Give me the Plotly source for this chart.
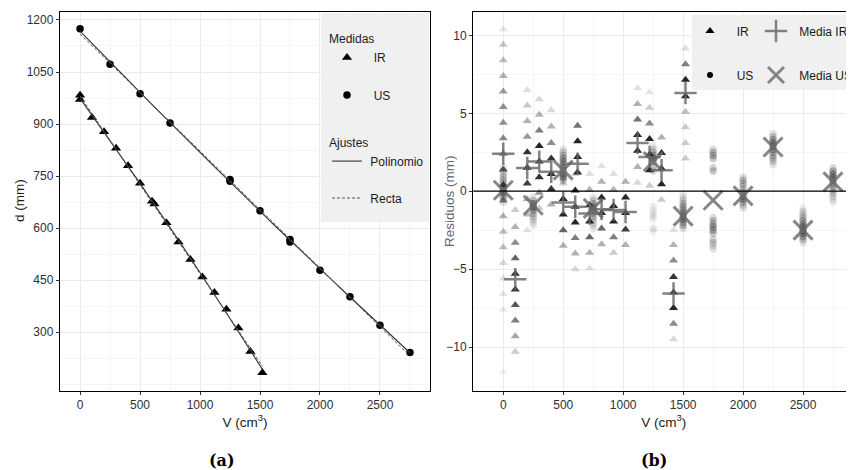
import numpy as np
import plotly.graph_objects as go

OFF = 8                      # page body margin of the browser
W, H = 854 - OFF, 470 - OFF  # figure size so that it fills the window

# ---------------- Panel (a): distance vs volume ----------------
ir_v = [0, 0, 100, 200, 300, 400, 500, 600, 620, 720, 820, 920, 1020, 1120, 1220, 1320, 1420, 1520]
ir_d = [983, 971, 919, 878, 830, 780, 729, 677, 669, 615, 560, 509, 459, 414, 366, 312, 244, 183]
us_v = [0, 250, 500, 750, 1250, 1250, 1500, 1750, 1750, 2000, 2250, 2500, 2750]
us_d = [1175, 1072, 987, 903, 740, 735, 650, 567, 560, 478, 402, 320, 241]
d_ticks = [300, 450, 600, 750, 900, 1050, 1200]

# ---------------- Panel (b): residuals ----------------
ir_cols = [0, 100, 200, 300, 400, 500, 600, 620, 720, 820, 920, 1020, 1120, 1220, 1320, 1420, 1520]
ir_res = [
    [10.4, 9.4, 8.4, 7.4, 6.4, 5.4, 4.4, 3.4, 2.4, 1.4, 0.4, -0.6, -1.6, -2.6, -3.6, -4.6, -5.6, -6.6, -7.6, -11.6],
    [-1.2, -2.3, -3.3, -4.3, -5.3, -6.3, -7.3, -8.3, -9.3, -10.3],
    [6.5, 5.5, 4.5, 3.5, 2.5, 1.5, 0.5, -0.5, -1.5, -2.5],
    [5.9, 4.9, 3.9, 2.9, 1.9, 0.9, -0.1, -1.1],
    [5.2, 4.15, 3.1, 2.1, 1.1, 0.15, -0.85],
    [0.5, -0.5, -1.5, -2.5, -3.5],
    [1.1, 0.05, -1.0, -2.0, -3.0, -4.0, -5.0],
    [4.2, 3.2, 2.2, 1.2],
    [1.1, 0.1, -0.9, -1.95, -2.95, -3.95, -4.95],
    [1.6, 0.6, -0.4, -1.4, -2.4, -3.4],
    [1.1, 0.1, -0.95, -1.95, -2.95, -3.95],
    [0.6, -0.4, -1.4, -2.45, -3.45],
    [6.6, 5.6, 4.6, 3.6, 2.6, 1.55, 0.55],
    [6.35, 5.35, 4.35, 3.35, 2.35, 1.35, 0.35],
    [3.45, 2.45, 1.45, 0.45, -0.55],
    [-2.5, -3.45, -4.45, -5.5, -6.5, -7.5, -8.5, -9.5],
    [9.15, 8.15, 7.15, 6.1, 5.1, 4.1, 3.1, 2.1],
]
ir_alpha = [
    [.1, .22, .25, .3, .38, .42, .42, .45, .5, .6, .6, .4, .3, .25, .25, .15, .12, .1, .08, .06],
    [.2, .3, .45, .6, .8, .8, .65, .5, .35, .2],
    [.12, .22, .3, .4, .8, .85, .75, .3, .25, .12],
    [.15, .3, .5, .85, .8, .8, .4, .2],
    [.15, .3, .45, .8, .85, .8, .3],
    [.2, .85, .85, .6, .3],
    [.15, .85, .85, .85, .5, .3, .15],
    [.55, .85, .85, .85],
    [.12, .3, .85, .85, .6, .3, .12],
    [.12, .3, .85, .85, .6, .3],
    [.12, .3, .85, .85, .5, .2],
    [.3, .85, .85, .75, .3],
    [.12, .3, .55, .85, .85, .3, .15],
    [.1, .2, .45, .85, .85, .85, .2],
    [.3, .85, .85, .85, .2],
    [.12, .3, .45, .8, .85, .85, .45, .15],
    [.12, .5, .85, .85, .25, .2, .2, .2],
]
ir_mean = [2.4, -5.65, 1.49, 1.9, 1.25, -0.73, -1.0, 1.77, -1.43, -1.15, -1.2, -1.33, 3.1, 2.2, 1.35, -6.56, 6.3]

us_cols = [0, 250, 500, 750, 1250, 1500, 1750, 2000, 2250, 2500, 2750]
us_res = [
    [1.5, 1.3, 1.1, 0.9, 0.7, 0.5, 0.3, 0.1, -0.1, -0.3, -0.5, -0.7],
    [-0.4, -0.6, -0.8, -1.0, -1.2, -1.4, -1.6, -1.8, -2.0, -2.2],
    [2.7, 2.5, 2.3, 2.1, 1.9, 1.7, 1.5, 1.3, 1.1, 0.9, 0.7],
    [-0.4, -0.6, -0.8, -1.0, -1.2, -1.4, -1.6, -1.8, -2.0, -2.2, -2.4],
    [2.9, 2.7, 2.5, 2.3, 2.1, 1.9, 1.5, 1.3, -1.0, -1.2, -1.4, -1.6, -1.8, -2.4, -2.6],
    [-0.2, -0.4, -0.6, -0.8, -1.0, -1.2, -1.4, -1.6, -1.8, -2.0, -2.2, -2.4],
    [2.7, 2.5, 2.3, 2.1, 1.5, 1.3, -1.7, -1.9, -2.1, -2.3, -2.5, -2.7, -3.1, -3.3, -3.5, -3.7],
    [0.9, 0.7, 0.5, 0.3, 0.1, -0.1, -0.3, -0.5, -0.7, -0.9, -1.1],
    [3.7, 3.5, 3.3, 3.1, 2.9, 2.7, 2.5, 2.3, 2.1, 1.9, 1.7],
    [-1.1, -1.3, -1.5, -1.7, -1.9, -2.1, -2.3, -2.5, -2.7, -2.9, -3.1, -3.3],
    [1.5, 1.3, 1.1, 0.9, 0.7, 0.5, 0.3, 0.1, -0.1, -0.3, -0.5, -0.7],
]
us_alpha = [
    [.1, .12, .15, .18, .2, .22, .3, .4, .4, .25, .18, .12],
    [.1, .2, .4, .4, .3, .2, .16, .14, .1, .08],
    [.1, .16, .22, .28, .3, .3, .28, .25, .3, .4, .22],
    [.1, .16, .25, .35, .35, .25, .2, .16, .13, .1, .08],
    [.08, .14, .22, .3, .35, .28, .2, .16, .06, .06, .08, .08, .06, .1, .06],
    [.08, .1, .16, .22, .25, .28, .3, .35, .35, .28, .22, .12],
    [.13, .22, .25, .2, .16, .2, .13, .2, .22, .3, .25, .2, .16, .16, .13, .1],
    [.13, .2, .22, .16, .2, .22, .3, .35, .25, .16, .1],
    [.1, .2, .28, .35, .35, .3, .25, .22, .2, .16, .1],
    [.08, .13, .16, .2, .25, .3, .38, .4, .38, .3, .2, .1],
    [.13, .25, .35, .35, .3, .25, .22, .2, .16, .13, .1, .08],
]
us_mean = [0.06, -0.9, 1.35, -1.1, 1.9, -1.6, -0.58, -0.3, 2.84, -2.5, 0.6]

FONT = "Liberation Sans, Arial, sans-serif"
TXT = "#1a1a1a"

def pad(n):
    return "\u00a0" * n

fig = go.Figure()

# ---- fits for panel (a) ----
def fit_xy(v, d, deg):
    c = np.polyfit(v, d, deg)
    xs = np.linspace(min(v), max(v), 200)
    return xs, np.polyval(c, xs)

px_all, py_all, lx_all, ly_all = [], [], [], []
for v, d in ((ir_v, ir_d), (us_v, us_d)):
    xs, ys = fit_xy(v, d, 2)
    px_all += list(xs) + [None]
    py_all += list(ys) + [None]
    xs, ys = fit_xy(v, d, 1)
    lx_all += list(xs) + [None]
    ly_all += list(ys) + [None]

fig.add_trace(go.Scatter(x=ir_v, y=ir_d, mode="markers", name=pad(2) + "IR",
                         marker=dict(symbol="triangle-up", size=9, color="black"),
                         legend="legend", xaxis="x", yaxis="y"))
fig.add_trace(go.Scatter(x=us_v, y=us_d, mode="markers", name=pad(2) + "US",
                         marker=dict(symbol="circle", size=7.5, color="black"),
                         legend="legend2", xaxis="x", yaxis="y"))
fig.add_trace(go.Scatter(x=px_all, y=py_all, mode="lines", name=pad(1) + "Polinomio",
                         line=dict(color="#333333", width=1.1),
                         legend="legend3", xaxis="x", yaxis="y"))
fig.add_trace(go.Scatter(x=lx_all, y=ly_all, mode="lines", name=pad(1) + "Recta",
                         line=dict(color="#555555", width=1, dash="3px,2px"),
                         legend="legend4", xaxis="x", yaxis="y"))

# ---- panel (b) points ----
def flatten(cols, vals, alphas):
    xs, ys, cs = [], [], []
    for c, vv, aa in zip(cols, vals, alphas):
        for v, a in zip(vv, aa):
            xs.append(c)
            ys.append(v)
            cs.append(f"rgba(0,0,0,{a})")
    return xs, ys, cs

ux, uy, uc = flatten(us_cols, us_res, us_alpha)
ix, iy, ic = flatten(ir_cols, ir_res, ir_alpha)

fig.add_trace(go.Scatter(x=ux, y=uy, mode="markers", showlegend=False,
                         marker=dict(symbol="circle", size=7.5, color=uc, line=dict(width=0)),
                         xaxis="x2", yaxis="y2"))
fig.add_trace(go.Scatter(x=ix, y=iy, mode="markers", showlegend=False,
                         marker=dict(symbol="triangle-up", size=8, color=ic, line=dict(width=0)),
                         xaxis="x2", yaxis="y2"))
fig.add_trace(go.Scatter(x=us_cols, y=us_mean, mode="markers", name=pad(1) + "Media US",
                         marker=dict(symbol="x-thin", size=19,
                                     line=dict(width=3, color="rgba(105,105,105,0.8)")),
                         legend="legend8", xaxis="x2", yaxis="y2"))
fig.add_trace(go.Scatter(x=ir_cols, y=ir_mean, mode="markers", name=pad(1) + "Media IR",
                         marker=dict(symbol="cross-thin", size=16,
                                     line=dict(width=2.5, color="rgba(100,100,100,0.8)")),
                         legend="legend7", xaxis="x2", yaxis="y2"))
# legend keys for panel (b)
fig.add_trace(go.Scatter(x=[None], y=[None], mode="markers", name=pad(2) + "IR",
                         marker=dict(symbol="triangle-up", size=8, color="black"),
                         legend="legend5", xaxis="x2", yaxis="y2"))
fig.add_trace(go.Scatter(x=[None], y=[None], mode="markers", name=pad(2) + "US",
                         marker=dict(symbol="circle", size=6, color="black"),
                         legend="legend6", xaxis="x2", yaxis="y2"))

# ---- axes ----
def px2x(p):
    return (p - OFF) / W

def px2y(p):
    return 1 - (p - OFF) / H

ydom = [px2y(390.7), px2y(12)]
grid_major = "#ebebeb"
grid_minor = "#f5f5f5"

common_ax = dict(showline=True, linecolor="black", linewidth=1.4,
                 ticks="outside", ticklen=3, tickcolor="#333333", tickwidth=1,
                 tickfont=dict(family=FONT, size=12, color="#303030"),
                 gridcolor=grid_major, gridwidth=1, zeroline=False)

fig.update_layout(
    xaxis=dict(domain=[px2x(60), px2x(430)], range=[-167, 2917], anchor="y",
               tick0=0, dtick=500, mirror=True,
               minor=dict(dtick=250, tick0=0, showgrid=True, gridcolor=grid_minor, ticks=""),
               title=dict(text="V (cm<sup>3</sup>)", standoff=4,
                          font=dict(family=FONT, size=13.5, color=TXT)),
               **common_ax),
    yaxis=dict(domain=ydom, range=[131, 1223], anchor="x",
               tickmode="array", tickvals=d_ticks, mirror=True,
               minor=dict(dtick=75, tick0=150, showgrid=True, gridcolor=grid_minor, ticks=""),
               **common_ax),
    xaxis2=dict(domain=[px2x(473.3), 1.0], range=[-250, 2925], anchor="y2",
                tick0=0, dtick=500, mirror=True,
                minor=dict(dtick=250, tick0=0, showgrid=True, gridcolor=grid_minor, ticks=""),
                title=dict(text="V (cm<sup>3</sup>)", standoff=4,
                           font=dict(family=FONT, size=13.5, color=TXT)),
                **common_ax),
    yaxis2=dict(domain=ydom, range=[-12.8, 11.5], anchor="x2",
                tick0=0, dtick=5,
                minor=dict(dtick=2.5, tick0=0, showgrid=True, gridcolor=grid_minor, ticks=""),
                **common_ax),
)

# y axis titles placed as in the reference
fig.add_annotation(text="d (mm)", textangle=-90, xref="paper", yref="paper",
                   x=px2x(19), y=px2y(201), xanchor="center", yanchor="middle", showarrow=False,
                   font=dict(family=FONT, size=13.5, color=TXT))
fig.add_annotation(text="Residuos (mm)", textangle=-90, xref="paper", yref="paper",
                   x=px2x(449), y=px2y(201), xanchor="center", yanchor="middle", showarrow=False,
                   font=dict(family=FONT, size=13.5, color="#666666"))

# zero reference line in panel (b)
fig.add_shape(type="line", xref="x2 domain", yref="y2", x0=0, x1=1, y0=0, y1=0,
              line=dict(color="black", width=1.3), layer="above")

# legend backgrounds (opaque, ggplot style)
fig.add_shape(type="rect", xref="paper", yref="paper",
              x0=px2x(321), x1=px2x(429), y0=px2y(222), y1=px2y(13),
              fillcolor="#f0f0f0", line=dict(width=0), layer="above")
fig.add_shape(type="rect", xref="paper", yref="paper",
              x0=px2x(692), x1=1.0, y0=px2y(90), y1=px2y(15),
              fillcolor="#f0f0f0", line=dict(width=0), layer="above")

def leg(xp, yp, title=None):
    d = dict(x=px2x(xp), y=px2y(yp), xanchor="left", yanchor="middle",
             bgcolor="rgba(0,0,0,0)", borderwidth=0, itemwidth=30,
             font=dict(family=FONT, size=12, color=TXT), tracegroupgap=0)
    if title:
        d["title"] = dict(text=title, font=dict(family=FONT, size=12, color=TXT), side="top")
    return d

fig.update_layout(
    legend=leg(327, 50, "Medidas"),
    legend2=leg(327, 95),
    legend3=leg(327, 153.5, "Ajustes"),
    legend4=leg(327, 198),
    legend5=leg(690, 31),
    legend6=leg(690, 75),
    legend7=leg(756, 31),
    legend8=leg(756, 75),
)

# panel captions
for txt, xp in (("(a)", 221.7), ("(b)", 653.7)):
    fig.add_annotation(text=f"<b>{txt}</b>", xref="paper", yref="paper",
                       x=px2x(xp), y=px2y(460), xanchor="center", yanchor="middle",
                       showarrow=False, font=dict(family="DejaVu Serif, serif", size=16, color="black"))

fig.update_layout(width=W, height=H,
                  margin=dict(l=0, r=0, t=0, b=0, autoexpand=False),
                  paper_bgcolor="white", plot_bgcolor="white", showlegend=True)

fig.write_html("out.html")
